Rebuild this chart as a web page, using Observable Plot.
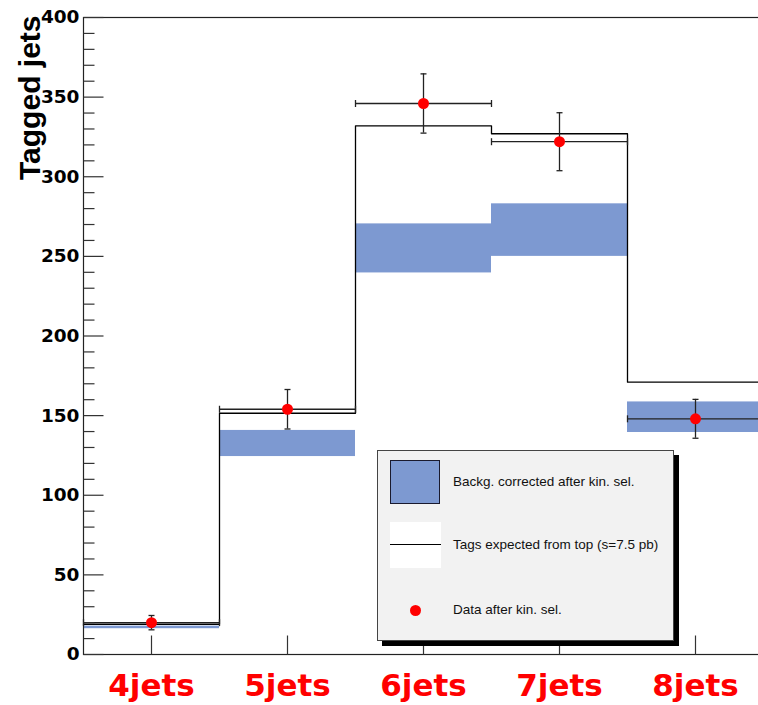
<!DOCTYPE html>
<html>
<head>
<meta charset="utf-8">
<script src="https://cdn.jsdelivr.net/npm/d3@7"></script>
<script src="https://cdn.jsdelivr.net/npm/@observablehq/plot@0.6"></script>
<style>
  html, body { margin: 0; padding: 0; overflow: hidden; background: #fff; }
  #wrap { position: relative; width: 766px; height: 705px; }
  #wrap svg { position: absolute; left: 0; top: 0; }
  .legend {
    position: absolute; left: 377px; top: 450px; width: 297px; height: 191px;
    box-sizing: border-box; background: #f2f2f2; border: 1px solid #444;
    box-shadow: 5px 5px 0 #000;
    font-family: "Liberation Sans", Arial, sans-serif; font-size: 13.5px; color: #111;
  }
  .legend .sw { position: absolute; box-sizing: border-box; }
  .legend .lbl { position: absolute; left: 75px; height: 20px; line-height: 20px; white-space: nowrap; }
</style>
</head>
<body>
<div id="wrap"></div>
<script>
// Jet-multiplicity bins
const categories = ["4jets", "5jets", "6jets", "7jets", "8jets"];
const nJets = [4, 5, 6, 7, 8];

// Data after kinematic selection (tagged jets) and its errors
const dataCounts = [20, 154, 346, 322, 148];
const dataErrors = [4.5, 12.4, 18.6, 18.2, 12.2];

// Tags expected from top (sigma = 7.5 pb)
const topExpected = [19, 151.5, 332, 327, 171];

// Background corrected after kinematic selection: central value and band half-width
const bgCorrected = [17, 132.5, 255, 266.5, 149];
const bgErrors = [0.8, 8.2, 15.4, 16.5, 9.6];

// Axis ticks
const yTicks = [0, 50, 100, 150, 200, 250, 300, 350, 400];
const yMinorTicks = d3.range(0, 401, 10).filter(v => v % 50 !== 0);

const blue = "#7d99d1";
const barColor = "#222";

const bins = nJets.map((n, i) => ({
  n, name: categories[i],
  data: dataCounts[i], err: dataErrors[i],
  top: topExpected[i],
  bgLo: bgCorrected[i] - bgErrors[i], bgHi: bgCorrected[i] + bgErrors[i]
}));

// step outline of the expected histogram: one point per bin start, plus the last edge
const steps = bins.map(b => ({x: b.n - 0.5, y: b.top}));
steps.push({x: bins[bins.length - 1].n + 0.5, y: bins[bins.length - 1].top});

// stroke-only symbols used for error-bar caps and inward axis ticks
const capH = {draw(c) { c.moveTo(-3, 0); c.lineTo(3, 0); }};
const capV = {draw(c) { c.moveTo(0, -3.5); c.lineTo(0, 3.5); }};
const tickIn = len => ({draw(c) { c.moveTo(0, 0); c.lineTo(len, 0); }});
const tickUp = {draw(c) { c.moveTo(0, 0); c.lineTo(0, -19); }};

const capPoints = bins.flatMap(b => [{x: b.n, y: b.data - b.err}, {x: b.n, y: b.data + b.err}]);
const sidePoints = bins.flatMap(b => [{x: b.n - 0.5, y: b.data}, {x: b.n + 0.5, y: b.data}]);

const chart = Plot.plot({
  width: 766,
  height: 705,
  marginLeft: 83,
  marginRight: 3,
  marginTop: 17,
  marginBottom: 51,
  x: {domain: [3.5, 8.5]},
  y: {domain: [0, 400]},
  style: {background: "transparent", overflow: "visible"},
  marks: [
    // background band
    Plot.rect(bins, {x1: d => d.n - 0.5, x2: d => d.n + 0.5, y1: "bgLo", y2: "bgHi", fill: blue}),
    // expected histogram from top
    Plot.line(steps, {x: "x", y: "y", curve: "step-after", stroke: "#000", strokeWidth: 1.3}),
    // data error bars
    Plot.ruleY(bins, {y: "data", x1: d => d.n - 0.5, x2: d => d.n + 0.5, stroke: barColor, strokeWidth: 1.3}),
    Plot.ruleX(bins, {x: "n", y1: d => d.data - d.err, y2: d => d.data + d.err, stroke: barColor, strokeWidth: 1.3}),
    Plot.dot(capPoints, {x: "x", y: "y", symbol: capH, fill: "none", stroke: barColor, strokeWidth: 1.3}),
    Plot.dot(sidePoints, {x: "x", y: "y", symbol: capV, fill: "none", stroke: barColor, strokeWidth: 1.3}),
    Plot.dot(bins, {x: "n", y: "data", r: 5.5, fill: "#ff0000", stroke: "none"}),
    // frame and inward ticks
    Plot.frame({stroke: "#222", strokeWidth: 1.2}),
    Plot.dot(yTicks, {y: d => d, frameAnchor: "left", symbol: tickIn(20), fill: "none", stroke: "#333", strokeWidth: 1.2}),
    Plot.dot(yMinorTicks, {y: d => d, frameAnchor: "left", symbol: tickIn(11), fill: "none", stroke: "#333", strokeWidth: 1.2}),
    Plot.dot(nJets, {x: d => d, frameAnchor: "bottom", symbol: tickUp, fill: "none", stroke: "#333", strokeWidth: 1.2}),
    // axes labels
    Plot.axisY({ticks: yTicks, tickSize: 0, tickPadding: 4, label: null, tickFormat: d => String(d),
      fontSize: 18.5, fontWeight: "bold", fontFamily: "DejaVu Sans", fill: "#000"}),
    Plot.axisX({ticks: nJets, tickSize: 0, tickPadding: 19, label: null,
      tickFormat: d => categories[nJets.indexOf(d)],
      fontSize: 31, fontWeight: "bold", fontFamily: "DejaVu Sans", fill: "#ff0000"}),
    Plot.text(["Tagged jets"], {frameAnchor: "top-left", text: d => d, rotate: -90,
      textAnchor: "end", lineAnchor: "bottom", dx: -44, dy: -2,
      fontSize: 30, fontWeight: "bold", fontFamily: "Liberation Sans", fill: "#000"})
  ]
});

const wrap = document.getElementById("wrap");
wrap.appendChild(chart);

// legend box
const legend = document.createElement("div");
legend.className = "legend";
legend.innerHTML = `
  <div class="sw" style="left:12px;top:9px;width:50px;height:44px;background:${blue};border:1.5px solid #1a1a2e;"></div>
  <div class="lbl" style="top:21px;">Backg. corrected after kin. sel.</div>
  <div class="sw" style="left:12px;top:71px;width:51px;height:46px;background:#fff;"></div>
  <div class="sw" style="left:12px;top:93px;width:51px;height:1.3px;background:#000;"></div>
  <div class="lbl" style="top:84px;">Tags expected from top (s=7.5 pb)</div>
  <div class="sw" style="left:32px;top:154px;width:11px;height:11px;border-radius:50%;background:#ff0000;"></div>
  <div class="lbl" style="top:149px;">Data after kin. sel.</div>
`;
wrap.appendChild(legend);
</script>
</body>
</html>
